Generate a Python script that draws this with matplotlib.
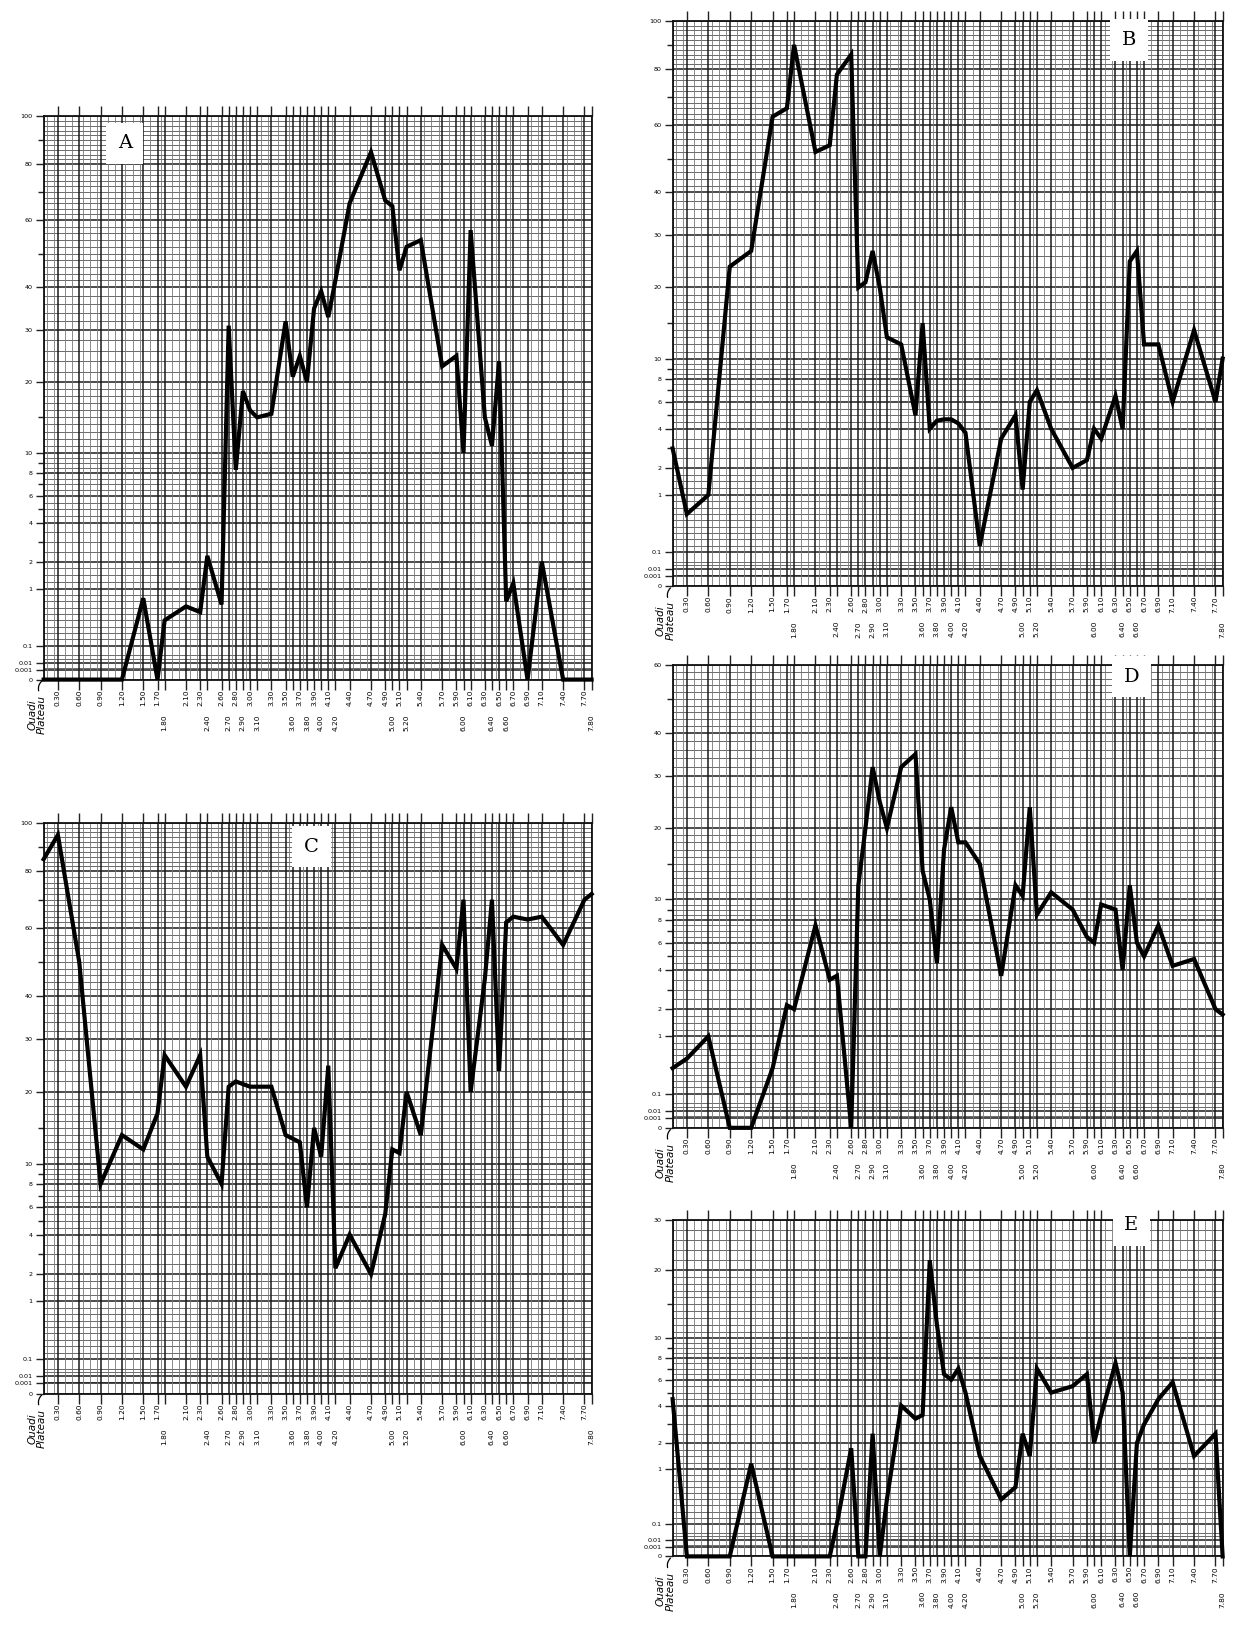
import numpy as np
import matplotlib
matplotlib.use("Agg")
import matplotlib.pyplot as plt
from matplotlib.transforms import blended_transform_factory

# ---------------- data ----------------
stations = [0.10, 0.30, 0.60, 0.90, 1.20, 1.50, 1.70, 1.80, 2.10, 2.30, 2.40, 2.60,
            2.70, 2.80, 2.90, 3.00, 3.10, 3.30, 3.50, 3.60, 3.70, 3.80, 3.90, 4.00,
            4.10, 4.20, 4.40, 4.70, 4.90, 5.00, 5.10, 5.20, 5.40, 5.70, 5.90, 6.00,
            6.10, 6.30, 6.40, 6.50, 6.60, 6.70, 6.90, 7.10, 7.40, 7.70, 7.80]

upper_labels = ["0.30", "0.60", "0.90", "1.20", "1.50", "1.70", "2.10", "2.30", "2.60",
                "2.80", "3.00", "3.30", "3.50", "3.70", "3.90", "4.10", "4.40", "4.70",
                "4.90", "5.10", "5.40", "5.70", "5.90", "6.10", "6.30", "6.50", "6.70",
                "6.90", "7.10", "7.40", "7.70"]
lower_labels = ["1.80", "2.40", "2.70", "2.90", "3.10", "3.60", "3.80", "4.00", "4.20",
                "5.00", "5.20", "6.00", "6.40", "6.60", "7.80"]

vals_A = [0, 0, 0, 0, 0, 0.85, 0, 0.5, 0.72, 0.63, 2.3, 0.75,
          31, 8.3, 18.7, 16, 15, 15.5, 32, 21, 25, 20, 35, 39,
          33, 42, 66, 85, 67, 65, 45, 52, 54, 23, 25, 10,
          57, 15, 11, 24, 0.8, 1.2, 0, 2, 0, 0, 0]
vals_B = [3, 0.7, 1, 24, 27, 63, 66, 90, 52, 54, 78, 86,
          20, 21, 27, 20, 13, 12, 5, 15, 4, 4.6, 4.7, 4.7,
          4.4, 3.8, 0.2, 3.5, 5, 1.2, 6, 7, 4, 2, 2.4, 4,
          3.5, 6.5, 4, 25, 27, 12, 12, 6, 14, 6, 10]
vals_C = [85, 95, 50, 8, 14, 12, 17, 27, 21, 27, 11, 8,
          21, 22, 21.5, 21, 21, 21, 14, 13.5, 13, 6, 15, 11,
          25, 2.3, 4, 2, 5.5, 12, 11.5, 20, 14, 55, 48, 70,
          20, 45, 70, 24, 62, 64, 63, 64, 55, 70, 72]
vals_D = [0.5, 0.65, 1, 0, 0, 0.5, 2.2, 2, 7.5, 3.5, 3.7, 0,
          12, 20, 32, 25, 20, 32, 35, 14, 10, 4.5, 17, 24,
          18, 18, 15, 3.7, 12, 10.5, 24, 8.5, 11, 9, 6.5, 6,
          9.5, 9, 4, 12, 6, 5, 7.5, 4.3, 4.8, 2, 1.8]
vals_E = [4.5, 0, 0, 0, 1.2, 0, 0, 0, 0, 0, 0.1, 1.8,
          0, 0, 2.5, 0, 0.5, 4, 3.3, 3.5, 22, 12, 6.5, 6,
          7, 5, 1.5, 0.5, 0.7, 2.5, 1.5, 7, 5, 5.5, 6.5, 2,
          3.5, 7.5, 5, 0, 2, 3, 4.5, 5.8, 1.5, 2.5, 0]

ytick_vals = [0, 0.001, 0.01, 0.1, 1, 2, 4, 6, 8, 10, 20, 30, 40, 60, 80, 100]
ytick_text = ["0", "0.001", "0.01", "0.1", "1", "2", "4", "6", "8", "10", "20", "30",
              "40", "60", "80", "100"]

# ---------------- irregular (hand-drawn) vertical scale ----------------
SCALE_V = np.array(ytick_vals, dtype=float)
SCALE_P = np.array([0, 10, 17, 34, 91, 118, 157, 184, 207, 227, 298, 350, 393, 460, 516, 564],
                   dtype=float)


def fwd(v):
    return np.interp(v, SCALE_V, SCALE_P)


def inv(p):
    return np.interp(p, SCALE_P, SCALE_V)


def minor_levels(top):
    lv = list(np.arange(0.2, 1.0, 0.1)) + list(np.arange(1.25, 2, 0.25)) + \
        list(np.arange(2.5, 10, 0.5)) + list(np.arange(11, 20, 1)) + \
        list(np.arange(22, 40, 2)) + list(np.arange(42, 100, 2)) + [0.003, 0.03, 0.05]
    return [v for v in lv if v < top and v not in ytick_vals]


fig = plt.figure(figsize=(12.33, 16.27), dpi=100)
fig.patch.set_facecolor("white")

panels = [
    ("A", vals_A, 100, [0.0354, 0.5823, 0.4444, 0.3463], (0.148, 0.952)),
    ("B", vals_B, 100, [0.5455, 0.6397, 0.4461, 0.3475], (0.83, 0.966)),
    ("C", vals_C, 100, [0.0354, 0.1435, 0.4444, 0.3508], (0.489, 0.958)),
    ("D", vals_D, 60, [0.5455, 0.3068, 0.4461, 0.2844], (0.834, 0.975)),
    ("E", vals_E, 30, [0.5455, 0.0434, 0.4461, 0.2066], (0.834, 0.985)),
]

label_font = "DejaVu Sans"
x_left, x_right = 0.10, 7.80
minor_x = [x for x in np.arange(0.15, 7.8, 0.05)
           if min(abs(x - s) for s in stations) > 0.02]

for name, vals, top, rect, lpos in panels:
    ax = fig.add_axes(rect)
    ax.set_yscale("function", functions=(fwd, inv))
    ax.set_xlim(x_left, x_right)
    ax.set_ylim(0, top)

    # grid: horizontal
    for v in minor_levels(top):
        ax.axhline(v, color="#6a6a6a", lw=0.7, zorder=1)
    for v in ytick_vals:
        if v <= top:
            ax.axhline(v, color="#1a1a1a", lw=1.1, zorder=1)
    # grid: vertical
    for x in minor_x[::2]:
        ax.axvline(x, color="#777777", lw=0.6, zorder=1)
    for s in stations:
        ax.axvline(s, color="#1a1a1a", lw=1.1, zorder=1)

    # data line
    ax.plot(stations, vals, color="black", lw=3.0, solid_joinstyle="miter",
            zorder=5, clip_on=False)

    for sp in ax.spines.values():
        sp.set_color("#111111")
        sp.set_linewidth(1.3)

    # y ticks
    yt = [v for v in ytick_vals if v <= top]
    yl = [t for v, t in zip(ytick_vals, ytick_text) if v <= top]
    ax.set_yticks(yt)
    ax.set_yticklabels(yl, fontsize=4.6, family=label_font)
    ax.set_yticks([v for v in [50, 70, 90, 3, 5, 7, 9, 15] if v < top], minor=True)
    ax.tick_params(axis="y", which="major", length=6, width=1, pad=2, color="#222222")
    ax.tick_params(axis="y", which="minor", length=4, width=1, color="#222222")

    # x ticks (station marks above and below)
    ax.set_xticks(stations[1:])
    ax.set_xticklabels([])
    ax.tick_params(axis="x", which="major", direction="out", length=7, width=1,
                   top=True, bottom=True, color="#222222")

    trans = blended_transform_factory(ax.transData, ax.transAxes)
    for lab in upper_labels:
        ax.annotate(lab, xy=(float(lab), 0), xycoords=trans, xytext=(0, -7),
                    textcoords="offset points", rotation=90, ha="center", va="top",
                    fontsize=5.3, family=label_font)
    for lab in lower_labels:
        ax.annotate(lab, xy=(float(lab), 0), xycoords=trans, xytext=(0, -25),
                    textcoords="offset points", rotation=90, ha="center", va="top",
                    fontsize=5.3, family=label_font)
    ax.annotate("Ouadi\nPlateau", xy=(0, 0), xycoords="axes fraction", xytext=(-5, -11),
                textcoords="offset points", rotation=90, ha="center", va="top",
                fontsize=7.5, style="italic", family=label_font, linespacing=0.9)
    # small bracket linking the label to the origin
    ax.annotate("", xy=(0, 0), xycoords="axes fraction", xytext=(-3, -10),
                textcoords="offset points",
                arrowprops=dict(arrowstyle="-", color="black", lw=0.9,
                                connectionstyle="arc3,rad=-0.4"))

    ax.text(lpos[0], lpos[1], name, transform=ax.transAxes, ha="center", va="center",
            fontsize=14, family="DejaVu Serif", zorder=10,
            bbox=dict(boxstyle="square,pad=0.6", facecolor="white", edgecolor="none"))

fig.savefig("out.png", dpi=100, facecolor="white")
